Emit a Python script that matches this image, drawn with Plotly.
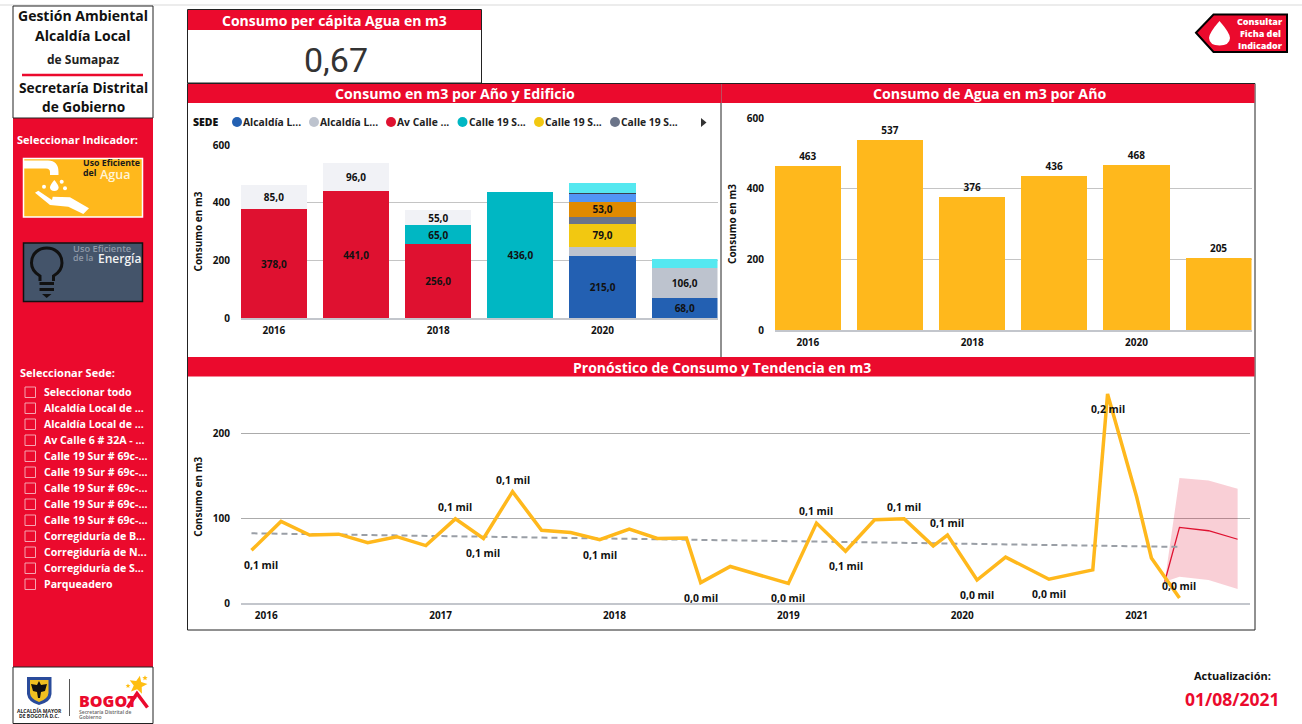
import math
import plotly.graph_objects as go

W, H = 1302, 724
FONT = "Open Sans, Noto Sans, sans-serif"
RED = "#EB0A2D"

# ---------- data ----------
years = [2016, 2017, 2018, 2019, 2020, 2021]
year_ticks = [2016, 2018, 2020]
sede_alcaldia_a = [0, 0, 0, 0, 215, 68]
sede_alcaldia_b = [0, 0, 0, 0, 32, 106]
sede_av_calle = [378, 441, 256, 0, 0, 0]
sede_calle_teal = [0, 0, 65, 436, 0, 0]
sede_calle_yellow = [0, 0, 0, 0, 79, 0]
sede_calle_slate = [0, 0, 0, 0, 25, 0]
sede_orange = [0, 0, 0, 0, 53, 0]
sede_lightblue = [0, 0, 0, 0, 28, 0]
sede_dark = [0, 0, 0, 0, 3, 0]
sede_cyan = [0, 0, 0, 0, 33, 31]
sede_parqueadero = [85, 96, 55, 0, 0, 0]
total_por_anio = [463, 537, 376, 436, 468, 205]

legend_labels = ["Alcaldía L...", "Alcaldía L...", "Av Calle ...", "Calle 19 S...", "Calle 19 S...", "Calle 19 S..."]
sede_options = ["Seleccionar todo", "Alcaldía Local de ...", "Alcaldía Local de ...", "Av Calle 6 # 32A - ...",
                "Calle 19 Sur # 69c-...", "Calle 19 Sur # 69c-...", "Calle 19 Sur # 69c-...", "Calle 19 Sur # 69c-...",
                "Calle 19 Sur # 69c-...", "Corregiduría de B...", "Corregiduría de N...", "Corregiduría de S...",
                "Parqueadero"]

consumo_fechas = ["2015-12-01", "2016-02-01", "2016-04-01", "2016-06-01", "2016-08-01", "2016-10-01", "2016-12-01",
                  "2017-02-01", "2017-04-01", "2017-06-01", "2017-08-01", "2017-10-01", "2017-12-01",
                  "2018-02-01", "2018-04-01", "2018-06-01", "2018-07-01", "2018-09-01",
                  "2019-01-01", "2019-03-01", "2019-05-01", "2019-07-01", "2019-09-01", "2019-11-01", "2019-12-01",
                  "2020-02-01", "2020-04-01", "2020-07-01", "2020-10-01", "2020-11-01",
                  "2021-01-01", "2021-02-01", "2021-04-01"]
consumo_valores = [62, 96, 80, 81, 71, 78, 67.5, 99, 76, 131, 85.5, 83, 74.5, 87, 76, 76.5, 24, 43,
                   23, 94, 61, 98, 99, 67, 80, 27, 54, 28, 39, 246, 125, 53, 6]
# (index into the series, label, above the point?)
consumo_etiquetas = [(0, "0,1 mil", False), (7, "0,1 mil", True), (8, "0,1 mil", False), (9, "0,1 mil", True),
                     (12, "0,1 mil", False), (16, "0,0 mil", False), (18, "0,0 mil", False), (19, "0,1 mil", True),
                     (20, "0,1 mil", False), (22, "0,1 mil", True), (24, "0,1 mil", True), (25, "0,0 mil", False),
                     (27, "0,0 mil", False), (29, "0,2 mil", False), (32, "0,0 mil", True)]
tendencia_fechas = ["2015-12-01", "2021-04-01"]
tendencia_valores = [82, 66]
pronostico_fechas = ["2021-03-01", "2021-04-01", "2021-06-01", "2021-08-01"]
pronostico_valores = [25, 89, 85, 75]
pronostico_superior = [25, 147, 144, 134.5]
pronostico_inferior = [25, 31, 27, 16.5]
anios_pronostico = [2016, 2017, 2018, 2019, 2020, 2021]
kpi_per_capita = "0,67"
actualizacion = "01/08/2021"

# ---------- pixel helpers ----------
def X(px): return px / W
def Y(py): return 1 - py / H

def pth(s):
    out, is_x = [], True
    for tok in s.split():
        if tok.isalpha():
            out.append(tok); is_x = True
        else:
            v = float(tok)
            out.append(f"{X(v) if is_x else Y(v):.5f}")
            is_x = not is_x
    return " ".join(out)

shapes, ann = [], []

def rect(x0, y0, x1, y1, fill=None, line=None, lw=1, layer="below"):
    shapes.append(dict(type="rect", xref="paper", yref="paper", x0=X(x0), x1=X(x1), y0=Y(y1), y1=Y(y0), layer=layer,
                       fillcolor=fill or "rgba(0,0,0,0)", line=dict(color=line or "rgba(0,0,0,0)", width=lw if line else 0)))

def seg(x0, y0, x1, y1, color, lw=1, layer="below"):
    shapes.append(dict(type="line", xref="paper", yref="paper", x0=X(x0), x1=X(x1), y0=Y(y0), y1=Y(y1), layer=layer,
                       line=dict(color=color, width=lw)))

def path(s, fill=None, line=None, lw=0, layer="above"):
    shapes.append(dict(type="path", xref="paper", yref="paper", path=pth(s), layer=layer,
                       fillcolor=fill or "rgba(0,0,0,0)", line=dict(color=line or "rgba(0,0,0,0)", width=lw)))

def circ(cx, cy, r, fill=None, line=None, lw=0, layer="above"):
    shapes.append(dict(type="circle", xref="paper", yref="paper", x0=X(cx - r), x1=X(cx + r), y0=Y(cy + r), y1=Y(cy - r),
                       layer=layer, fillcolor=fill or "rgba(0,0,0,0)", line=dict(color=line or "rgba(0,0,0,0)", width=lw)))

def T(text, x, y, size=10, color="#111", anchor="center", weight=700, font=FONT, angle=0):
    ann.append(dict(text=text, x=X(x), y=Y(y), xref="paper", yref="paper", showarrow=False, xanchor=anchor, yanchor="middle",
                    textangle=angle, borderpad=0, borderwidth=0,
                    font=dict(family=font, size=size, color=color, weight=weight)))

def star(cx, cy, r, rot=0):
    pts = []
    for i in range(10):
        a = -math.pi / 2 + rot + i * math.pi / 5
        rr = r if i % 2 == 0 else r * 0.45
        pts.append((cx + rr * math.cos(a), cy + rr * math.sin(a)))
    return "M " + " L ".join(f"{p[0]:.2f} {p[1]:.2f}" for p in pts) + " Z"

# ---------- page furniture ----------
seg(0, 5, W, 5, "#E6E6E6", 1.5)

# sidebar
rect(13, 118, 153, 667, fill=RED)
rect(13, 6, 153, 118, fill="white", line="#222", lw=1)
rect(13, 667, 153, 723.5, fill="white", line="#222", lw=1)
T("Gestión Ambiental", 83, 16, 14, "#111")
T("Alcaldía Local", 83, 35, 14, "#111")
T("de Sumapaz", 83, 59, 12, "#222")
seg(22, 75, 143, 75, RED, 2.5)
T("Secretaría Distrital", 83, 87, 13.7, "#111")
T("de Gobierno", 83, 107, 13.7, "#111")
T("Seleccionar Indicador:", 17, 139, 11, "white", "left")

# water tile
rect(23.5, 158.5, 142.5, 217, fill="#FFB81C", line="white", lw=1.5)
path("M 24 160.6 L 48 160.6 Q 58.5 161 58.5 172 L 58.5 175 L 50 175 L 50 172 Q 50 168.5 46 168.5 L 24 168.5 Z", fill="white")
path("M 54.3 180 Q 58.6 185 58.6 187.5 Q 58.4 191 54.3 191 Q 50.2 191 50 187.5 Q 50 185 54.3 180 Z", fill="white")
for cx, cy in [(44, 186.7), (61.7, 181.7), (65, 188.3)]:
    circ(cx, cy, 2, fill="white")
path("M 35 192.7 L 38.3 190.7 L 52 200 L 52.7 196.7 L 70 197.3 L 89 208.3 L 83.3 214 L 68.3 206.7 L 50 205 Z", fill="white")
T("Uso Eficiente", 82.5, 163, 8.8, "#1a1a1a", "left")
T("del", 82.5, 172.5, 8.8, "#1a1a1a", "left")
T("Agua", 99.5, 174, 12.5, "#FFF4D6", "left", weight=600)

# energy tile
rect(23.5, 243, 142.5, 301.5, fill="#44546A", line="#111", lw=1.5)
path("M 40 281 L 40 276 Q 31.5 271 31.5 263 C 31.5 243 62 243 62 263 Q 62 271 53.5 276 L 53.5 281", line="#111", lw=3)
seg(39.5, 283.5, 54, 283.5, "#111", 3, "above")
seg(39.5, 289.5, 54, 289.5, "#111", 3, "above")
path("M 42 294 L 51.5 294 L 46.7 298 Z", fill="#111")
T("Uso Eficiente", 73, 248, 9.3, "#8F99A8", "left", weight=600)
T("de la", 73, 257.5, 8.8, "#8F99A8", "left", weight=600)
T("Energía", 98, 258.5, 12, "#F2F2F2", "left", weight=600)

# slicer
T("Seleccionar Sede:", 20, 372, 11, "white", "left")
for i, lab in enumerate(sede_options):
    yy = 392.3 + i * 16
    rect(25, yy - 5.3, 35.5, yy + 5.2, line="#F6A3B1", lw=1)
    T(lab, 43.5, yy, 10.6, "white", "left")

# logo
path("M 27 677 L 51.5 677 L 51.5 694 Q 51 702 39 705 Q 28 702 27 694 Z", fill="#2A4B9B")
path("M 30 680 L 48.5 680 L 48.5 693 Q 48 699 39 702 Q 30.5 699 30 693 Z", fill="#F0C020")
path("M 39 681 L 41 685 L 47 684 L 45 691 L 41 692 L 40 698 L 38 698 L 37 692 L 33 691 L 31 684 L 37 685 Z", fill="#111")
T("ALCALDÍA MAYOR", 39, 710, 5, "#222")
T("DE BOGOTÁ D.C.", 39, 716, 5, "#222")
seg(69.5, 679, 69.5, 716, "#555", 1)
T("BOGOT", 79, 701, 16, RED, "left", weight=800)
path("M 127.5 707.5 L 137 693.5 L 147.5 707.5", line=RED, lw=3.5)
path(star(138, 685, 9.5, 0.2), fill="#FFBE12")
path(star(145, 678, 2.8), fill="#FFBE12")
path(star(128, 686, 2.5), fill="#FFBE12")
T("Secretaría Distrital de", 79, 711.5, 5, "#666", "left", weight=600)
T("Gobierno", 79, 716.5, 5, "#666", "left", weight=600)

# KPI card
rect(187.5, 9.5, 481.5, 83, fill="white", line="#222", lw=1)
rect(188, 10, 481, 30, fill=RED)
T("Consumo per cápita Agua en m3", 335, 20, 14, "white")
T(kpi_per_capita, 336, 60, 34, "#333", weight=400, font="Roboto, sans-serif")

# chart frames
rect(187.5, 83.5, 1255, 630, fill="white", line="#222", lw=1)
seg(721, 83.5, 721, 357, "#222", 1)
rect(188, 84, 721, 103, fill=RED)
rect(721.5, 84, 1254.5, 103, fill=RED)
rect(188, 357, 1254.5, 376.5, fill=RED)
T("Consumo en m3 por Año y Edificio", 455, 94, 14.2, "white")
T("Consumo de Agua en m3 por Año", 989, 94, 14.2, "white")
T("Pronóstico de Consumo y Tendencia en m3", 722, 367.5, 14, "white")

# arrow button
path("M 1196 32.7 L 1213.5 14.5 L 1287 14.5 L 1287 52 L 1213.5 52 Z", fill=RED, line="#000", lw=2)
path("M 1219.5 21 Q 1230 33 1230 38 Q 1229.5 45.5 1219.5 45.5 Q 1209.5 45.5 1209 38 Q 1209 33 1219.5 21 Z", fill="white")
T("Consultar", 1260, 21.5, 9, "white", weight=800)
T("Ficha del", 1260, 33.5, 9, "white", weight=800)
T("Indicador", 1260, 45.5, 9, "white", weight=800)

# update stamp
T("Actualización:", 1232, 675, 11, "#111")
T(actualizacion, 1232, 699, 17.5, RED)

# custom legend (the reference truncates the names and pages the legend)
legend_colors = ["#2360B2", "#BDC3CE", "#DF1130", "#00B7C3", "#F2C811", "#6B7489"]
legend_dot_x = [237, 314, 391, 462.5, 539, 615]
T("SEDE", 193, 122, 10.5, "#111", "left", weight=800)
for lab, col, dx in zip(legend_labels, legend_colors, legend_dot_x):
    circ(dx, 122, 5, fill=col)
    T(lab, dx + 6, 122, 10.3, "#222", "left")
path("M 701 118 L 706.5 122.5 L 701 127 Z", fill="#333")

# ---------- charts ----------
def fmt(v):
    return f"{v:.1f}".replace(".", ",") if v >= 53 else ""

stack = [("Alcaldía Local A", sede_alcaldia_a, "#2360B2"), ("Alcaldía Local B", sede_alcaldia_b, "#BDC3CE"),
         ("Av Calle 6", sede_av_calle, "#DF1130"), ("Calle 19 Sur A", sede_calle_teal, "#00B7C3"),
         ("Calle 19 Sur B", sede_calle_yellow, "#F2C811"), ("Calle 19 Sur C", sede_calle_slate, "#6B7489"),
         ("Calle 19 Sur D", sede_orange, "#E08A00"), ("Calle 19 Sur E", sede_lightblue, "#5295F5"),
         ("Corregiduría", sede_dark, "#3B3F4F"), ("Corregiduría B", sede_cyan, "#55E8F0"),
         ("Parqueadero", sede_parqueadero, "#F1F2F6")]

fig = go.Figure()
for name, vals, col in stack:
    fig.add_trace(go.Bar(x=years, y=vals, name=name, marker=dict(color=col, line=dict(width=0)),
                         text=[fmt(v) for v in vals], textposition="inside", insidetextanchor="middle", textangle=0,
                         textfont=dict(family=FONT, size=11, color="#111", weight=700),
                         xaxis="x", yaxis="y", showlegend=False))

fig.add_trace(go.Bar(x=years, y=total_por_anio, name="Consumo", marker=dict(color="#FFB81C", line=dict(width=0)),
                     text=[str(v) for v in total_por_anio], textposition="outside", textangle=0,
                     textfont=dict(family=FONT, size=10, color="#111", weight=700),
                     xaxis="x2", yaxis="y2", showlegend=False))

fig.add_trace(go.Scatter(x=pronostico_fechas + pronostico_fechas[::-1], y=pronostico_superior + pronostico_inferior[::-1],
                         fill="toself", fillcolor="rgba(223,17,48,0.2)", line=dict(width=0), mode="lines",
                         hoverinfo="skip", xaxis="x3", yaxis="y3", showlegend=False))
fig.add_trace(go.Scatter(x=pronostico_fechas, y=pronostico_valores, mode="lines", line=dict(color="#DF1130", width=1.3),
                         xaxis="x3", yaxis="y3", showlegend=False))
fig.add_trace(go.Scatter(x=tendencia_fechas, y=tendencia_valores, mode="lines",
                         line=dict(color="#9A9FA6", width=2, dash="6px,4px"), xaxis="x3", yaxis="y3", showlegend=False))
fig.add_trace(go.Scatter(x=consumo_fechas, y=consumo_valores, mode="lines", line=dict(color="#FFB81C", width=3.5),
                         xaxis="x3", yaxis="y3", showlegend=False))

for idx, lab, above in consumo_etiquetas:
    ann.append(dict(text=lab, x=consumo_fechas[idx], y=consumo_valores[idx], xref="x3", yref="y3", showarrow=False,
                    xanchor="center", yanchor="middle", yshift=12 if above else -15, xshift=10 if idx == 0 else 0,
                    font=dict(family=FONT, size=10.4, color="#111", weight=700)))

tick_font = dict(family=FONT, size=10, color="#111", weight=700)
title_font = dict(family=FONT, size=10, color="#111", weight=700)
GRID = "#C4C4C4"
BASE = "#C3C6CC"

def xa(domain, anchor, **kw):
    return dict(domain=domain, anchor=anchor, showgrid=False, zeroline=False, showline=True, linecolor=BASE, linewidth=2,
                tickfont=tick_font, ticks="", ticklabelstandoff=2, **kw)

def ya(domain, anchor, rng, dtick, standoff, **kw):
    return dict(domain=domain, anchor=anchor, range=rng, dtick=dtick, showgrid=True, gridcolor=kw.pop("grid", GRID), gridwidth=1,
                zeroline=False, showline=False, tickfont=tick_font, ticks="", ticklabelstandoff=10,
                title=dict(text="Consumo en m3", font=title_font, standoff=standoff), **kw)

fig.update_layout(
    width=W, height=H, margin=dict(l=0, r=0, t=0, b=0, autoexpand=False), paper_bgcolor="white", plot_bgcolor="rgba(0,0,0,0)",
    barmode="stack", bargap=0.195, separators=", ", font=dict(family=FONT), showlegend=False,
    uniformtext=dict(mode="show", minsize=10),
    shapes=shapes, annotations=ann,
    xaxis=xa([X(241), X(717.5)], "y", range=[2015.6, 2021.4], tickvals=year_ticks),
    yaxis=ya([Y(318), Y(145)], "x", [0, 600], 200, 8),
    xaxis2=xa([X(775), X(1251.5)], "y2", range=[2015.6, 2021.4], tickvals=year_ticks),
    yaxis2=ya([Y(330), Y(118)], "x2", [0, 600], 200, 8),
    xaxis3=xa([X(241), X(1250)], "y3", type="date", range=["2015-11-09", "2021-08-27"],
              tickvals=[f"{a}-01-01" for a in anios_pronostico], ticktext=[str(a) for a in anios_pronostico]),
    yaxis3=ya([Y(603), Y(390.5)], "x3", [0, 250], 100, 8, grid="#ABABAB"),
)

fig.write_html("out.html", config=dict(displayModeBar=False),
               post_script="document.body.style.margin='0';document.body.style.overflow='hidden';")
